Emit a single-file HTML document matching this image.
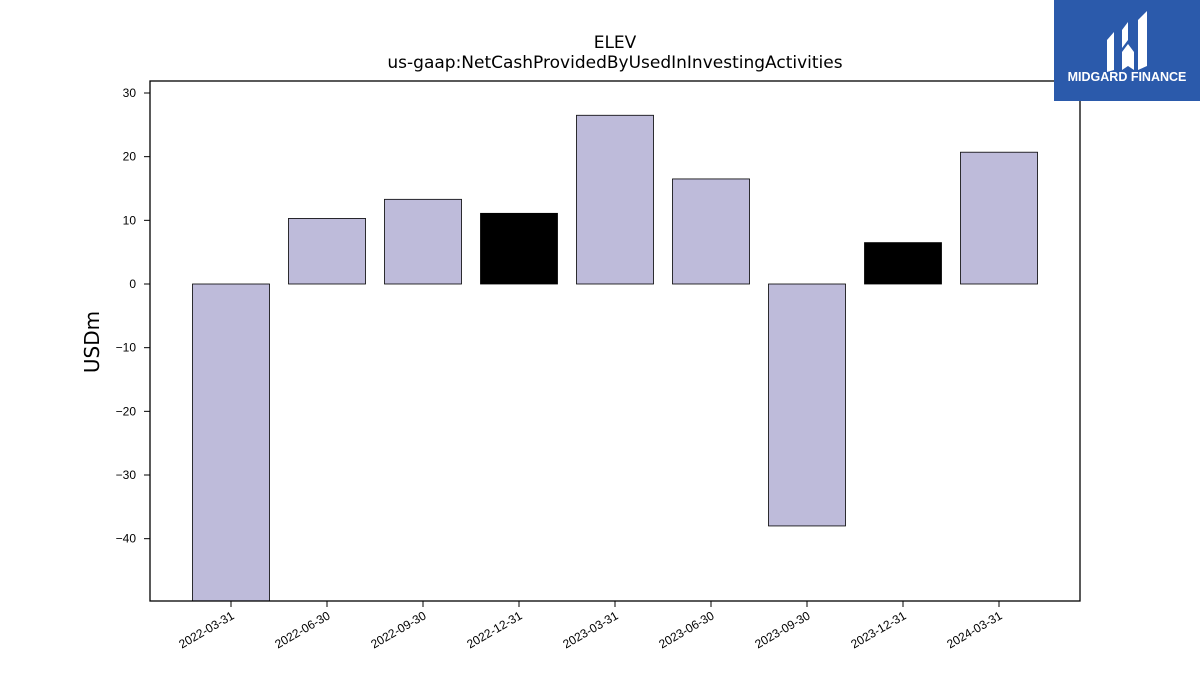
<!DOCTYPE html>
<html><head><meta charset="utf-8"><style>
body{margin:0;background:#fff;font-family:"Liberation Sans","DejaVu Sans",sans-serif;}
</style></head><body>
<svg id="chart" width="1200" height="675" xmlns="http://www.w3.org/2000/svg">
<text x="615" y="48" text-anchor="middle" font-size="17" font-family="DejaVu Sans, Liberation Sans, sans-serif">ELEV</text>
<text x="615" y="68" text-anchor="middle" font-size="17" font-family="DejaVu Sans, Liberation Sans, sans-serif">us-gaap:NetCashProvidedByUsedInInvestingActivities</text>
<text transform="translate(99,342) rotate(-90)" text-anchor="middle" font-size="20" font-family="DejaVu Sans, Liberation Sans, sans-serif">USDm</text>
<defs><clipPath id="pc"><rect x="150" y="81" width="930" height="520"/></clipPath></defs>
<g id="bars" clip-path="url(#pc)"></g>
<g id="axes"></g>
<rect x="150" y="81" width="930" height="520" fill="none" stroke="#000" stroke-width="1.3"/>
<g>
<rect x="1054" y="0" width="146" height="101" fill="#2b5aab"/>
<path d="M1107 40 L1114 32 L1114 70 L1107 72 Z" fill="#fff"/>
<path d="M1122 30 L1128 22 L1128 40 L1122 48 Z M1122 52 L1128 44 L1134 52 L1134 70 L1128 66 L1122 70 Z" fill="#fff"/>
<path d="M1138 20 L1147 11 L1147 66 L1138 70 Z" fill="#fff"/>
<text x="1127" y="81" text-anchor="middle" font-size="12.5" font-weight="bold" fill="#fff">MIDGARD FINANCE</text>
</g>
</svg>
<script>
const categories=["2022-03-31","2022-06-30","2022-09-30","2022-12-31","2023-03-31","2023-06-30","2023-09-30","2023-12-31","2024-03-31"];
const values=[-52,10.3,13.3,11.1,26.5,16.5,-38.0,6.5,20.7];
const highlight=[false,false,false,true,false,false,false,true,false];
const yTicks=[30,20,10,0,-10,-20,-30,-40];
const yTickLabels=["30","20","10","0","\u221210","\u221220","\u221230","\u221240"];
const NS="http://www.w3.org/2000/svg";
const y=v=>284-v*6.367;
const x=i=>231+i*96;
const bw=77;
const bars=document.getElementById('bars'),axes=document.getElementById('axes');
function mk(t,a,p){const e=document.createElementNS(NS,t);for(const k in a)e.setAttribute(k,a[k]);p.appendChild(e);return e;}
values.forEach((v,i)=>{
 const r=mk('rect',{x:x(i)-bw/2,y:Math.min(y(v),y(0)),width:bw,height:Math.abs(y(v)-y(0)),fill:highlight[i]?'#000':'#bebbda',stroke:'#000','stroke-width':0.8},bars);
 
 
 const t=mk('line',{x1:x(i),x2:x(i),y1:601,y2:607,stroke:'#000'},axes);
 
 
 const l=mk('text',{x:x(i)+4,y:618,'font-size':12,'text-anchor':'end',transform:`rotate(-30 ${x(i)+4} 618)`},axes);
 l.textContent=categories[i];
 
 
});
yTicks.forEach((v,i)=>{
 const t=mk('line',{x1:144,x2:150,y1:y(v),y2:y(v),stroke:'#000'},axes);
 
 
 const l=mk('text',{x:136,y:y(v)+4,'font-size':12,'text-anchor':'end'},axes);
 l.textContent=yTickLabels[i];
 
 
});
</script>
</body></html>
